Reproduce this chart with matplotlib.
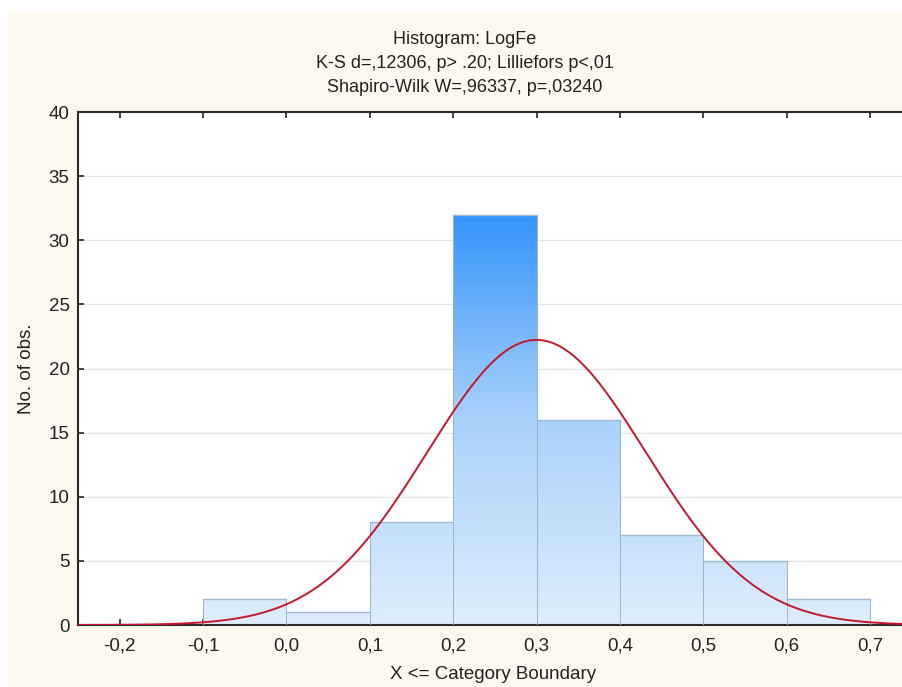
import numpy as np
import matplotlib.pyplot as plt
from matplotlib.colors import LinearSegmentedColormap
from matplotlib.patches import Rectangle

# Category boundaries (upper edges) and observed counts for LogFe
bin_edges = [-0.1, 0.0, 0.1, 0.2, 0.3, 0.4, 0.5, 0.6, 0.7]
counts = [2, 1, 8, 32, 16, 7, 5, 2]

# Fitted normal curve parameters
fit_mean = 0.30
fit_sd = 0.131

x_ticks = [-0.2, -0.1, 0.0, 0.1, 0.2, 0.3, 0.4, 0.5, 0.6, 0.7]
x_tick_labels = ['-0,2', '-0,1', '0,0', '0,1', '0,2', '0,3', '0,4', '0,5', '0,6', '0,7']
y_ticks = [0, 5, 10, 15, 20, 25, 30, 35, 40]

title_lines = ['Histogram: LogFe',
               'K-S d=,12306, p> .20; Lilliefors p<,01',
               'Shapiro-Wilk W=,96337, p=,03240']

plt.rcParams['font.family'] = ['Liberation Sans', 'DejaVu Sans']

cream = '#fdf9ee'
fig = plt.figure(figsize=(9.03, 6.87), dpi=100, facecolor='white')
fig.patches.append(Rectangle((8 / 903, -0.05), 1.2, 1.05 - 11 / 687, transform=fig.transFigure,
                             facecolor=cream, edgecolor='none', zorder=-10))

ax = fig.add_axes([78 / 903, 62 / 687, 1 - 78 / 903 + 0.005, 513 / 687])
ax.set_facecolor('white')
ax.set_xlim(-0.25, 0.745)
ax.set_ylim(0, 40)

# gradient fill, keyed to the count axis, clipped to each bar
cmap = LinearSegmentedColormap.from_list('bars', ['#deedfc', '#a9d1fa', '#3494fb'])
grad = np.linspace(0, 1, 256).reshape(-1, 1)
width = bin_edges[1] - bin_edges[0]
for left, n in zip(bin_edges[:-1], counts):
    rect = Rectangle((left, 0), width, n, facecolor='none', edgecolor='none')
    ax.add_patch(rect)
    im = ax.imshow(grad, cmap=cmap, origin='lower', aspect='auto',
                   extent=[left, left + width, 0, 32], vmin=0, vmax=1, zorder=2)
    im.set_clip_path(rect)
    ax.plot([left, left + width], [n, n], color='#9db8d2', lw=1.0, zorder=3)
    ax.plot([left, left], [0, n], color='#9db2c6', lw=0.7, zorder=3)
    ax.plot([left + width, left + width], [0, n], color='#9db2c6', lw=0.7, zorder=3)

# normal curve scaled to counts per bin
xs = np.linspace(-0.25, 0.75, 400)
ys = sum(counts) * width / (fit_sd * np.sqrt(2 * np.pi)) * \
    np.exp(-0.5 * ((xs - fit_mean) / fit_sd) ** 2)
ax.plot(xs, ys, color='#c4182e', lw=1.4, zorder=4)

for y in y_ticks[1:-1]:
    ax.axhline(y, color='#e3e3e3', lw=0.9, zorder=1)

ax.set_xticks(x_ticks)
ax.set_xticklabels(x_tick_labels)
ax.set_yticks(y_ticks)
ax.tick_params(axis='both', direction='in', length=4, width=1.2, labelsize=13.5,
               colors='#222222', top=True, right=False)
ax.tick_params(axis='x', pad=9)
ax.tick_params(axis='y', pad=6)
for side in ('left', 'bottom', 'top'):
    ax.spines[side].set_linewidth(1.5)
    ax.spines[side].set_color('#2a2a2a')
ax.spines['right'].set_visible(False)

ax.set_xlabel('X <= Category Boundary', fontsize=13.5, color='#222222', labelpad=8)
ax.set_ylabel('No. of obs.', fontsize=13.5, color='#222222', labelpad=10)

for i, line in enumerate(title_lines):
    fig.text(465 / 903, 1 - (40 + 23.5 * i) / 687, line, ha='center', va='center',
             fontsize=13, color='#222222')

fig.savefig('out.png', dpi=100, facecolor=fig.get_facecolor())
